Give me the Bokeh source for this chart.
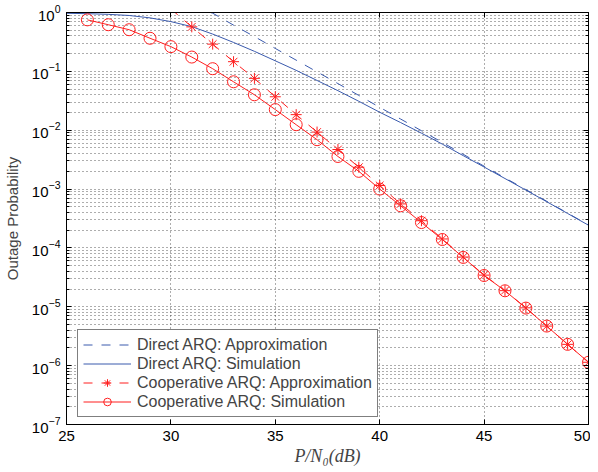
from bokeh.plotting import figure
from bokeh.models import Range1d, FixedTicker, LinearAxis, LogAxis, Legend, LegendItem
from bokeh.embed import file_html
from bokeh.resources import INLINE

# ---- data ----
snr = list(range(25, 51))  # P/N0 in dB

direct_sim = [0.97, 0.955, 0.93, 0.89, 0.81, 0.70, 0.575, 0.43, 0.31, 0.219, 0.151,
              0.104, 0.070, 0.047, 0.031, 0.0202, 0.0135, 0.0089, 0.0058, 0.0037,
              0.00237, 0.00151, 9.6e-4, 6.1e-4, 3.85e-4, 2.43e-4]

direct_approx_x = [31.9] + list(range(32, 51))
direct_approx = [1.0, 0.975, 0.61, 0.39, 0.245, 0.155, 0.098, 0.062, 0.039, 0.0245,
                 0.0155, 0.0098, 0.0062, 0.0039, 0.00245, 0.00155, 9.8e-4, 6.2e-4,
                 3.9e-4, 2.45e-4]

coop_approx_x = list(range(30, 51))
coop_approx = [1.15, 0.57, 0.29, 0.146, 0.076, 0.037, 0.0184, 0.0093, 0.0047, 0.00235,
               0.00115, 5.6e-4, 2.9e-4, 1.42e-4, 7.0e-5, 3.45e-5, 1.88e-5, 9.6e-6,
               4.7e-6, 2.3e-6, 1.14e-6]
coop_marker_x = list(range(31, 51))
coop_marker = coop_approx[1:]

coop_sim_x = list(range(26, 51))
coop_sim = [0.75, 0.62, 0.51, 0.365, 0.263, 0.175, 0.111, 0.0665, 0.040, 0.0224,
            0.0124, 0.0069, 0.00358, 0.0020, 0.00100, 5.2e-4, 2.7e-4, 1.39e-4,
            6.9e-5, 3.4e-5, 1.87e-5, 9.5e-6, 4.7e-6, 2.3e-6, 1.14e-6]

x_ticks = [25, 30, 35, 40, 45, 50]
y_ticks = [10.0 ** e for e in range(-7, 1)]
y_minor = [m * 10.0 ** e for e in range(-7, 0) for m in range(2, 10)]

legend_labels = ["Direct ARQ: Approximation", "Direct ARQ: Simulation",
                 "Cooperative ARQ: Approximation", "Cooperative ARQ: Simulation"]

BLUE = "#3a5aad"
RED = "#ff1f1f"
FONT = "Liberation Sans"

p = figure(width=590, height=469, y_axis_type="log",
           x_range=Range1d(25, 50), y_range=Range1d(1e-7, 1),
           output_backend="svg", toolbar_location=None,
           min_border_left=66, min_border_right=2, min_border_top=12, min_border_bottom=45)

p.outline_line_color = "black"
p.outline_line_width = 1
p.background_fill_color = "white"

xt = FixedTicker(ticks=x_ticks, minor_ticks=[])
yt = FixedTicker(ticks=y_ticks, minor_ticks=y_minor)
p.xaxis.ticker = xt
p.yaxis.ticker = yt

for ax in (p.xaxis[0], p.yaxis[0]):
    ax.major_tick_in = 5
    ax.major_tick_out = 0
    ax.minor_tick_in = 3
    ax.minor_tick_out = 0
    ax.axis_line_color = "black"
    ax.major_tick_line_color = "black"
    ax.minor_tick_line_color = "black"
    ax.major_label_text_font = FONT
    ax.major_label_text_font_size = "15px"
    ax.major_label_text_color = "black"
    ax.major_label_standoff = 6

p.yaxis.axis_label = "Outage Probability"
p.yaxis.axis_label_text_font = FONT
p.yaxis.axis_label_text_font_size = "15px"
p.yaxis.axis_label_text_font_style = "normal"
p.yaxis.axis_label_standoff = 8

p.xaxis.axis_label = "P/N\u2080(dB)"
p.xaxis.axis_label_text_font = "Liberation Serif"
p.xaxis.axis_label_text_font_size = "18px"
p.xaxis.axis_label_text_font_style = "italic"
p.xaxis.axis_label_standoff = 2

# box axes (top and right) with inward ticks, labels hidden
top = LinearAxis(ticker=xt, major_tick_in=5, major_tick_out=0, minor_tick_out=0,
                 major_label_text_font_size="1px", major_label_text_color=None,
                 major_label_standoff=0,
                 axis_line_color="black", major_tick_line_color="black")
right = LogAxis(ticker=yt, major_tick_in=5, major_tick_out=0, minor_tick_in=3, minor_tick_out=0,
                major_label_text_font_size="1px", major_label_text_color=None,
                major_label_standoff=0,
                axis_line_color="black", major_tick_line_color="black",
                minor_tick_line_color="black")
p.add_layout(top, "above")
p.add_layout(right, "right")

# grids
for g in (p.xgrid[0], p.ygrid[0]):
    g.grid_line_color = "#333333"
    g.grid_line_dash = "1 3"
    g.grid_line_alpha = 0.8
p.ygrid.minor_grid_line_color = "#333333"
p.ygrid.minor_grid_line_dash = "1 3"
p.ygrid.minor_grid_line_alpha = 0.8

# series
r1 = p.line(direct_approx_x, direct_approx, line_color=BLUE, line_width=1, line_dash="9 9")
r2 = p.line(snr, direct_sim, line_color=BLUE, line_width=1)
r3a = p.line(coop_approx_x, coop_approx, line_color=RED, line_width=1, line_dash="9 9")
r3b = p.scatter(coop_marker_x, coop_marker, marker="asterisk", size=11,
                line_color=RED, line_width=1)
r4a = p.line(coop_sim_x, coop_sim, line_color=RED, line_width=1)
r4b = p.scatter(coop_sim_x, coop_sim, marker="circle", size=12, fill_color=None,
                line_color=RED, line_width=1)

legend = Legend(items=[
    LegendItem(label=legend_labels[0], renderers=[r1]),
    LegendItem(label=legend_labels[1], renderers=[r2]),
    LegendItem(label=legend_labels[2], renderers=[r3a, r3b]),
    LegendItem(label=legend_labels[3], renderers=[r4a, r4b]),
], location=(11, 7))
legend.label_text_font = FONT
legend.label_text_font_size = "16px"
legend.glyph_width = 48
legend.glyph_height = 19
legend.label_height = 19
legend.spacing = 0
legend.padding = 5
legend.margin = 0
legend.label_standoff = 6
legend.border_line_color = "black"
legend.border_line_width = 1
legend.background_fill_alpha = 1
p.add_layout(legend, "center")

open("out.html", "w").write(file_html(p, INLINE))
